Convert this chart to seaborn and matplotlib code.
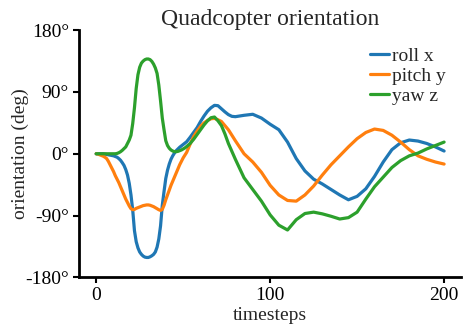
import matplotlib
matplotlib.use("Agg")
import matplotlib.pyplot as plt
import seaborn as sns
import pandas as pd

timesteps = [0, 1, 2, 3, 4, 5, 6, 7, 8, 9, 10, 11, 12, 13, 14, 15, 16, 17, 18, 19,
             20, 21, 22, 23, 24, 25, 26, 27, 28, 29, 30, 31, 32, 33, 34, 35, 36, 37, 38, 39,
             40, 41, 42, 43, 44, 45, 46, 47, 48, 49, 50, 51, 52,
             54, 56, 58, 60, 62, 64, 66, 68, 70, 72, 74, 76, 78, 80,
             85, 90, 95, 100, 105, 110, 115, 120, 125, 130, 135, 140,
             145, 150, 155, 160, 165, 170, 175, 180, 185, 190, 195, 200]

roll_x = [0, 0, 0, 0, 0, -0.5, -1, -1.5, -2, -2.5, -3, -4, -5, -7, -9.5, -13, -17, -23, -31, -43,
          -60, -82, -112, -128, -137, -143, -146.5, -149, -150.5, -151, -151, -150, -148.5, -146.5, -143, -136, -124, -105, -75, -55,
          -36, -24, -15, -8, -3, 1, 4.5, 7, 9.5, 11.5, 13.5, 15.5, 17.5,
          24, 31, 38, 47, 55, 62, 67, 70.5, 70, 65.5, 61, 57, 54.5, 54,
          56, 57.5, 52, 43, 35, 17, -7, -25, -37, -44, -52, -60,
          -67, -62, -51, -33, -12, 6, 16, 20, 18.5, 15, 10, 4]

pitch_y = [0, -0.5, -1.5, -2.5, -3.5, -5, -7, -11, -16, -21, -26, -32, -37, -42, -48, -54, -60, -66, -71, -76,
           -80, -81.5, -81, -79.5, -78.5, -77.5, -76.5, -75.5, -75, -74.5, -74.5, -75, -76, -77, -78.5, -80, -81.5, -82.5, -81, -75,
           -67, -60, -53, -46, -40, -34, -28, -22, -16, -11, -6, -2, 2,
           14, 25, 33, 40, 45, 48.5, 51, 51.5, 49.5, 47, 41, 35, 27, 19,
           0, -12, -27, -46, -60, -68, -69, -60, -47, -31, -16, -3,
           10, 22, 31, 36, 34, 27, 17, 6, -3, -8, -12, -15]

yaw_z = [0, 0, 0, 0, 0, 0, 0, 0, 0, 0, 0, 0, 0.5, 1.5, 3, 5, 7.5, 10, 15, 20,
         27, 44, 67, 95, 115, 126, 132, 135, 137, 138, 138, 137, 134.5, 130.5, 125, 117, 100, 77, 52, 35,
         19, 12, 8, 5.5, 4, 3, 3, 3.5, 4.5, 5.5, 7, 8.5, 10.5,
         15, 21, 28, 35, 42, 48, 52.5, 53.5, 48, 41, 29, 15, 3.5, -8,
         -35, -52, -69, -89, -104, -111, -96, -87, -85, -87.5, -91, -95,
         -93, -85, -66, -48, -34, -20, -10, -3, 1, 7, 12, 17]

series_names = ["roll x", "pitch y", "yaw z"]
colors = ["#1f77b4", "#ff7f0e", "#2ca02c"]
yticks = [-180, -90, 0, 90, 180]
ytick_labels = ["-180°", "-90°", "0°", "90°", "180°"]
xticks = [0, 100, 200]

sns.set_theme(style="ticks")
plt.rcParams["font.family"] = ["Liberation Serif", "DejaVu Serif"]

df = pd.concat([
    pd.DataFrame({"timesteps": timesteps, "deg": vals, "series": name})
    for name, vals in zip(series_names, [roll_x, pitch_y, yaw_z])
])

fig = plt.figure(figsize=(4.69, 3.35), dpi=100)
ax = fig.add_axes([0.168, 0.172, 0.816, 0.738])
sns.lineplot(data=df, x="timesteps", y="deg", hue="series", hue_order=series_names,
             palette=colors, linewidth=2.3, ax=ax)

ax.set_xlim(-10, 210)
ax.set_ylim(-180, 180)
ax.set_yticks(yticks)
ax.set_yticklabels(ytick_labels)
ax.set_xticks(xticks)
ax.tick_params(labelsize=14, length=4, width=1.5, colors="black", pad=3)
for s in ["left", "bottom"]:
    ax.spines[s].set_linewidth(2)
    ax.spines[s].set_color("black")
sns.despine(ax=ax)
ax.set_xlabel("timesteps", fontsize=14, labelpad=2)
ax.set_ylabel("orientation (deg)", fontsize=14, labelpad=-3)
ax.set_title("Quadcopter orientation", fontsize=17, pad=4)
ax.legend(loc="upper right", frameon=False, fontsize=14, handlelength=1.0,
          handletextpad=0.15, labelspacing=0.12, borderaxespad=0.3,
          bbox_to_anchor=(0.995, 0.985))
fig.savefig("out.png", dpi=100)
